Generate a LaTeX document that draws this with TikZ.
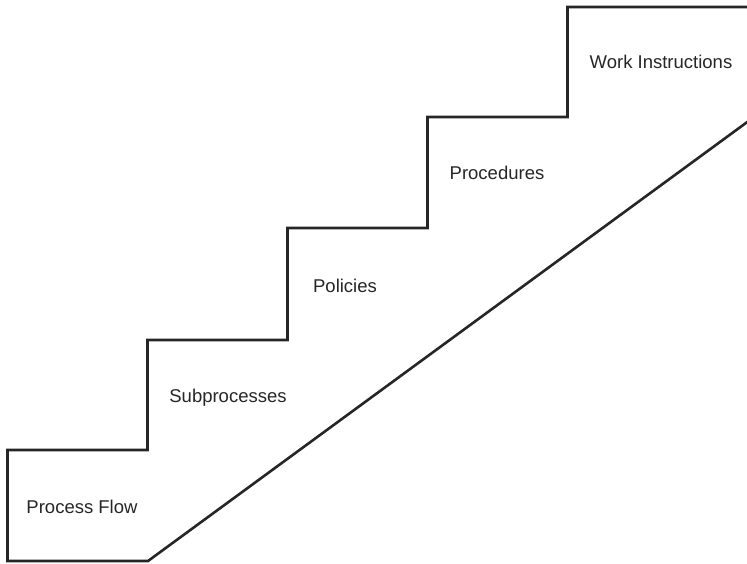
\documentclass[tikz,border=0pt]{standalone}
\usepackage{fontspec}
\setmainfont{Liberation Sans}
\usetikzlibrary{positioning}

\begin{document}
\begin{tikzpicture}[
    x=1pt, y=-1pt,
    stair/.style={draw, line width=2.6pt, line join=miter, black!85},
    steplabel/.style={font=\fontsize{18.5}{22}\selectfont, text=black!85,
                      inner sep=0pt},
  ]
  \useasboundingbox (0,0) rectangle (747,563);
  % outline of the stairs
  \draw[stair] (750,7) -- (567.5,7) -- (567.5,117) -- (427.5,117)
    -- (427.5,228) -- (287.5,228) -- (287.5,340) -- (147.5,340)
    -- (147.5,450) -- (7.5,450) -- (7.5,561) -- (148,561) -- (750,120);
  % one label per step
  \node[steplabel] (flow) at (82,507) {Process Flow};
  \node[steplabel] (sub)  at (228,398) {Subprocesses};
  \node[steplabel] (pol)  at (345,286) {Policies};
  \node[steplabel] (proc) at (497,173) {Procedures};
  \node[steplabel] (work) at (661,62)  {Work Instructions};
\end{tikzpicture}
\end{document}
